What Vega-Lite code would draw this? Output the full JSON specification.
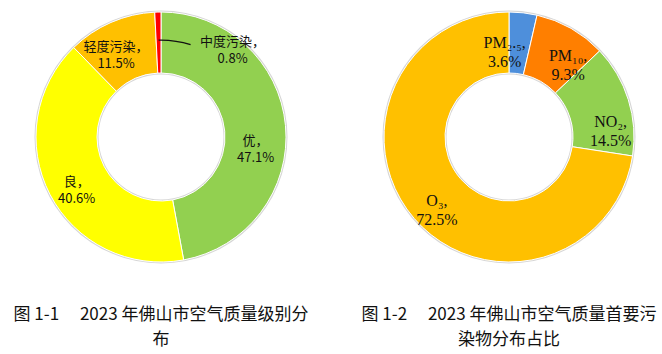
{
  "$schema": "https://vega.github.io/schema/vega-lite/v6.json",
  "padding": 0,
  "spacing": 18,
  "config": {"view": {"stroke": null}},
  "resolve": {"scale": {"color": "independent", "theta": "independent"}},
  "datasets": {
    "levels": [
      {"level": "优", "share": 47.1, "o": 1, "label": "优，\n47.1%"},
      {"level": "良", "share": 40.6, "o": 2, "label": "良，\n40.6%"},
      {"level": "轻度污染", "share": 11.5, "o": 3, "label": "轻度污染，\n11.5%"},
      {"level": "中度污染", "share": 0.8, "o": 4, "label": "中度污染，\n0.8%"}
    ],
    "pollutants": [
      {"p": "PM2.5", "share": 3.6, "o": 1, "label": "PM₂.₅,\n3.6%"},
      {"p": "PM10", "share": 9.3, "o": 2, "label": "PM₁₀,\n9.3%"},
      {"p": "NO2", "share": 14.5, "o": 3, "label": "NO₂,\n14.5%"},
      {"p": "O3", "share": 72.5, "o": 4, "label": "O₃,\n72.5%"}
    ]
  },
  "hconcat": [
    {
      "width": 322,
      "height": 274,
      "data": {"name": "levels"},
      "title": {"text": ["图 1-1　 2023 年佛山市空气质量级别分", "布"], "orient": "bottom", "anchor": "middle", "offset": 33, "font": "Noto Sans CJK SC", "fontSize": 17, "fontWeight": "normal", "lineHeight": 25, "color": "#111"},
      "layer": [
        {"transform": [{"filter": "datum.o == 1"}], "mark": {"type": "arc", "radius": 126.5, "radius2": 62.5, "theta": 0, "theta2": 6.2832, "color": "#d6d6d6"}, "encoding": {}},
        {"mark": {"type": "arc", "radius": 125, "radius2": 64, "stroke": "white", "strokeWidth": 1},
         "encoding": {
           "theta": {"field": "share", "type": "quantitative", "stack": true},
           "order": {"field": "o", "type": "quantitative"},
           "color": {"field": "level", "type": "nominal", "scale": {"domain": ["优", "良", "轻度污染", "中度污染"], "range": ["#92D050", "#FFFF00", "#FFC000", "#FF0000"]}, "legend": null}
         }},
        {"transform": [{"filter": "datum.o == 4"}], "mark": {"type": "arc", "radius": 97.6, "radius2": 96.3, "theta": -0.025, "theta2": 0.31, "color": "#111"}, "encoding": {}},
        {"mark": {"type": "text", "radius": 95, "dx": 0, "dy": 13, "lineBreak": "\n", "font": "Noto Sans CJK SC", "fontSize": 13, "lineHeight": 17, "color": "#111", "align": "center", "baseline": "middle"},
         "encoding": {"theta": {"field": "share", "type": "quantitative", "stack": true}, "order": {"field": "o", "type": "quantitative"}, "detail": {"field": "level", "type": "nominal"}, "text": {"condition": {"test": "datum.level === '优'", "field": "label"}, "value": ""}}},
        {"mark": {"type": "text", "radius": 95, "dx": 0, "dy": 1, "lineBreak": "\n", "font": "Noto Sans CJK SC", "fontSize": 13, "lineHeight": 17, "color": "#111", "align": "center", "baseline": "middle"},
         "encoding": {"theta": {"field": "share", "type": "quantitative", "stack": true}, "order": {"field": "o", "type": "quantitative"}, "detail": {"field": "level", "type": "nominal"}, "text": {"condition": {"test": "datum.level === '良'", "field": "label"}, "value": ""}}},
        {"mark": {"type": "text", "radius": 95, "dx": -7, "dy": -3, "lineBreak": "\n", "font": "Noto Sans CJK SC", "fontSize": 13, "lineHeight": 17, "color": "#111", "align": "center", "baseline": "middle"},
         "encoding": {"theta": {"field": "share", "type": "quantitative", "stack": true}, "order": {"field": "o", "type": "quantitative"}, "detail": {"field": "level", "type": "nominal"}, "text": {"condition": {"test": "datum.level === '轻度污染'", "field": "label"}, "value": ""}}},
        {"mark": {"type": "text", "radius": 95, "dx": 74, "dy": 0, "lineBreak": "\n", "font": "Noto Sans CJK SC", "fontSize": 13, "lineHeight": 17, "color": "#111", "align": "center", "baseline": "middle"},
         "encoding": {"theta": {"field": "share", "type": "quantitative", "stack": true}, "order": {"field": "o", "type": "quantitative"}, "detail": {"field": "level", "type": "nominal"}, "text": {"condition": {"test": "datum.level === '中度污染'", "field": "label"}, "value": ""}}}
      ]
    },
    {
      "width": 322,
      "height": 274,
      "data": {"name": "pollutants"},
      "title": {"text": ["图 1-2　 2023 年佛山市空气质量首要污", "染物分布占比"], "orient": "bottom", "anchor": "middle", "offset": 33, "font": "Noto Sans CJK SC", "fontSize": 17, "fontWeight": "normal", "lineHeight": 25, "color": "#111"},
      "layer": [
        {"transform": [{"filter": "datum.o == 1"}], "mark": {"type": "arc", "radius": 126.5, "radius2": 62.5, "theta": 0, "theta2": 6.2832, "color": "#d6d6d6"}, "encoding": {}},
        {"mark": {"type": "arc", "radius": 125, "radius2": 64, "stroke": "white", "strokeWidth": 1},
         "encoding": {
           "theta": {"field": "share", "type": "quantitative", "stack": true},
           "order": {"field": "o", "type": "quantitative"},
           "color": {"field": "p", "type": "nominal", "scale": {"domain": ["PM2.5", "PM10", "NO2", "O3"], "range": ["#4E8FDB", "#FF7F00", "#92D050", "#FFC000"]}, "legend": null}
         }},
        {"mark": {"type": "text", "radius": 95, "dx": -15, "dy": 0, "lineBreak": "\n", "font": "Liberation Serif", "fontSize": 16, "lineHeight": 19, "color": "#111", "align": "center", "baseline": "middle"},
         "encoding": {"theta": {"field": "share", "type": "quantitative", "stack": true}, "order": {"field": "o", "type": "quantitative"}, "detail": {"field": "p", "type": "nominal"}, "text": {"condition": {"test": "datum.p === 'PM2.5'", "field": "label"}, "value": ""}}},
        {"mark": {"type": "text", "radius": 95, "dx": 12, "dy": 1, "lineBreak": "\n", "font": "Liberation Serif", "fontSize": 16, "lineHeight": 19, "color": "#111", "align": "center", "baseline": "middle"},
         "encoding": {"theta": {"field": "share", "type": "quantitative", "stack": true}, "order": {"field": "o", "type": "quantitative"}, "detail": {"field": "p", "type": "nominal"}, "text": {"condition": {"test": "datum.p === 'PM10'", "field": "label"}, "value": ""}}},
        {"mark": {"type": "text", "radius": 95, "dx": 11, "dy": 13, "lineBreak": "\n", "font": "Liberation Serif", "fontSize": 16, "lineHeight": 19, "color": "#111", "align": "center", "baseline": "middle"},
         "encoding": {"theta": {"field": "share", "type": "quantitative", "stack": true}, "order": {"field": "o", "type": "quantitative"}, "detail": {"field": "p", "type": "nominal"}, "text": {"condition": {"test": "datum.p === 'NO2'", "field": "label"}, "value": ""}}},
        {"mark": {"type": "text", "radius": 95, "dx": 0, "dy": 2, "lineBreak": "\n", "font": "Liberation Serif", "fontSize": 16, "lineHeight": 19, "color": "#111", "align": "center", "baseline": "middle"},
         "encoding": {"theta": {"field": "share", "type": "quantitative", "stack": true}, "order": {"field": "o", "type": "quantitative"}, "detail": {"field": "p", "type": "nominal"}, "text": {"condition": {"test": "datum.p === 'O3'", "field": "label"}, "value": ""}}}
      ]
    }
  ]
}
